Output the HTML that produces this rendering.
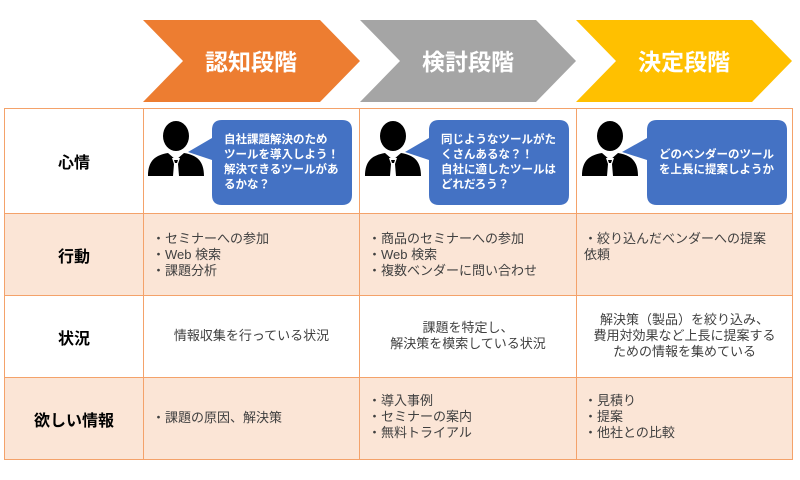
<!DOCTYPE html>
<html><head><meta charset="utf-8"><style>
*{margin:0;padding:0;box-sizing:border-box}
body{width:800px;height:480px;background:#fff;position:relative;overflow:hidden;font-family:"Liberation Sans","Noto Sans CJK JP",sans-serif}
.c{position:absolute;border:1.5px solid #F4A26A}
.pk{background:#FBE5D6}
.h{font-weight:bold;font-size:16px;color:#000;display:flex;align-items:center;justify-content:center}
.t{position:absolute;font-size:13px;color:#404040;line-height:16px}
.ctr{text-align:center}
.bub{position:absolute;color:#fff;font-weight:bold;font-size:11.5px;line-height:15px;display:flex;align-items:center}
svg{position:absolute;left:0;top:0}
</style></head><body>
<svg width="800" height="480">
<polygon points="143,20 320,20 360,61 320,102 143,102 183,61" fill="#ED7D31"/>
<polygon points="360,20 536,20 576,61 536,102 360,102 400,61" fill="#A5A5A5"/>
<polygon points="576,20 752,20 792,61 752,102 576,102 616,61" fill="#FFC000"/>
<text x="251" y="70" fill="#fff" font-size="23" font-weight="bold" text-anchor="middle" font-family="Liberation Sans,Noto Sans CJK JP,sans-serif">認知段階</text>
<text x="468" y="70" fill="#fff" font-size="23" font-weight="bold" text-anchor="middle" font-family="Liberation Sans,Noto Sans CJK JP,sans-serif">検討段階</text>
<text x="684" y="70" fill="#fff" font-size="23" font-weight="bold" text-anchor="middle" font-family="Liberation Sans,Noto Sans CJK JP,sans-serif">決定段階</text>
</svg>
<div class="c h" style="left:4px;top:108px;width:140px;height:106px">心情</div>
<div class="c" style="left:143px;top:108px;width:217px;height:106px"></div>
<div class="c" style="left:359px;top:108px;width:218px;height:106px"></div>
<div class="c" style="left:576px;top:108px;width:217px;height:106px"></div>
<div class="c h pk" style="left:4px;top:213px;width:140px;height:83px">行動</div>
<div class="c pk" style="left:143px;top:213px;width:217px;height:83px"></div>
<div class="c pk" style="left:359px;top:213px;width:218px;height:83px"></div>
<div class="c pk" style="left:576px;top:213px;width:217px;height:83px"></div>
<div class="c h" style="left:4px;top:295px;width:140px;height:83px">状況</div>
<div class="c" style="left:143px;top:295px;width:217px;height:83px"></div>
<div class="c" style="left:359px;top:295px;width:218px;height:83px"></div>
<div class="c" style="left:576px;top:295px;width:217px;height:83px"></div>
<div class="c h pk" style="left:4px;top:377px;width:140px;height:83px">欲しい情報</div>
<div class="c pk" style="left:143px;top:377px;width:217px;height:83px"></div>
<div class="c pk" style="left:359px;top:377px;width:218px;height:83px"></div>
<div class="c pk" style="left:576px;top:377px;width:217px;height:83px"></div>
<svg width="800" height="480">
<defs>
<g id="p">
<ellipse cx="28" cy="16" rx="13" ry="15" fill="#000"/>
<path d="M0,56 C0,40 8,35 20,33 L28,40 L36,33 C48,35 56,40 56,56 Z" fill="#000"/>
<path d="M24,38 L32,38 L30,44 L31,56 L25,56 L26,44 Z" fill="#fff"/>
<path d="M26,40 L30,40 L29,43 L27,43 Z" fill="#000"/>
</g>
</defs>
<use href="#p" x="148" y="120"/>
<use href="#p" x="365" y="120"/>
<use href="#p" x="582" y="120"/>
<path d="M225,120 H342 Q352,120 352,130 V195 Q352,205 342,205 H222 Q212,205 212,195 V160 L188,152 L212,138 V130 Q212,120 222,120 Z" fill="#4472C4"/>
<path d="M442,120 H559 Q569,120 569,130 V195 Q569,205 559,205 H439 Q429,205 429,195 V160 L405,152 L429,138 V130 Q429,120 439,120 Z" fill="#4472C4"/>
<path d="M659,120 H777 Q787,120 787,130 V195 Q787,205 777,205 H657 Q647,205 647,195 V160 L622,152 L647,138 V130 Q647,120 657,120 Z" fill="#4472C4"/>
</svg>
<div class="bub" style="left:224px;top:133px;">自社課題解決のため<br>ツールを導入しよう！<br>解決できるツールがあ<br>るかな？</div>
<div class="bub" style="left:441px;top:133px;">同じようなツールがた<br>くさんあるな？！<br>自社に適したツールは<br>どれだろう？</div>
<div class="bub" style="left:659px;top:148px;">どのベンダーのツール<br>を上長に提案しようか</div>
<div class="t" style="left:152px;top:231px">・セミナーへの参加<br>・Web 検索<br>・課題分析</div>
<div class="t" style="left:368px;top:231px">・商品のセミナーへの参加<br>・Web 検索<br>・複数ベンダーに問い合わせ</div>
<div class="t" style="left:584px;top:231px">・絞り込んだベンダーへの提案<br>依頼</div>
<div class="t ctr" style="left:143px;top:328px;width:217px">情報収集を行っている状況</div>
<div class="t ctr" style="left:359px;top:320px;width:218px">課題を特定し、<br>解決策を模索している状況</div>
<div class="t ctr" style="left:576px;top:312px;width:217px">解決策（製品）を絞り込み、<br>費用対効果など上長に提案する<br>ための情報を集めている</div>
<div class="t" style="left:152px;top:410px">・課題の原因、解決策</div>
<div class="t" style="left:368px;top:393px">・導入事例<br>・セミナーの案内<br>・無料トライアル</div>
<div class="t" style="left:584px;top:393px">・見積り<br>・提案<br>・他社との比較</div>
</body></html>
